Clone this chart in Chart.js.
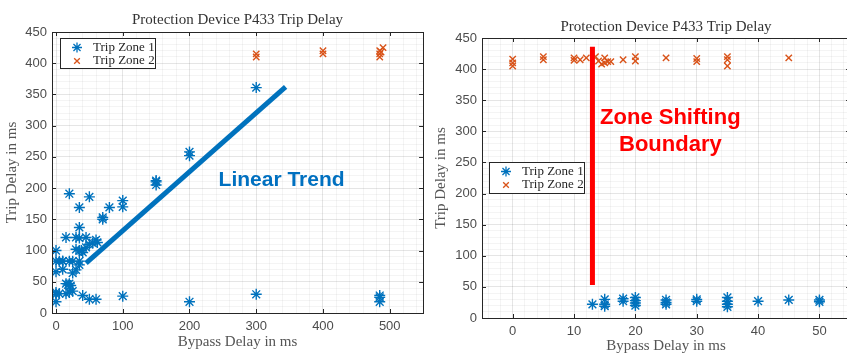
<!DOCTYPE html>
<html>
<head>
<meta charset="utf-8">
<script src="https://cdn.jsdelivr.net/npm/chart.js@4.4.1/dist/chart.umd.min.js"></script>
<style>
  html, body { margin:0; padding:0; background:#fff; overflow:hidden; width:847px; height:354px; }
  #left { position:absolute; left:0; top:0; }
  #right { position:absolute; left:430px; top:0; }
</style>
</head>
<body>
<canvas id="left" width="430" height="354"></canvas>
<canvas id="right" width="427" height="354"></canvas>
<script>
// ---- left plot: bypass delay 0..500 ms ----
const leftZone1X = [0,0,0,0,0,0, 5,5, 10,10,10, 15,15,15, 18,20,20,20,22, 20,25,25,25, 30,30,30, 35,35,35,35,35,35, 38,40,40, 45,45, 50,50,50, 55, 60,62,60, 70,70, 80, 100,100,100, 150,150,150, 200,200,200, 300,300, 485,485,485];
const leftZone1Y = [100,83,66,33,30,18, 83,31, 83,70,83, 121,47,31, 45,47,83,33,44, 191,83,64,35, 121,102,69, 169,137,120,100,83,77, 100,97,28, 121,105, 186,110,22, 112, 117,113,22, 153,150, 169, 180,170,27, 212,205,210, 258,252,18, 361,30, 28,25,18];
const leftZone2X = [300,300,400,400,485,485,485,487,490];
const leftZone2Y = [415,410,420,415,420,410,415,418,425];
const trendX = [45, 344];
const trendY = [80, 362];

// ---- right plot: bypass delay 0..50 ms ----
const rightZone1X = [13, 15,15,15, 18,18, 20,20,20,20, 25,25,25, 30,30, 35,35,35,35, 40, 45, 50,50];
const rightZone1Y = [22, 30,22,19, 31,27, 33,28,24,20, 29,25,22, 30,27, 33,27,22,18, 27, 29, 29,26];
const rightZone2X = [0,0,0, 5,5, 10,10, 11,12, 13.5,14,14.5,15,15,15.5,16, 18, 20,20, 25, 30,30, 35,35,35, 45];
const rightZone2Y = [416,410,405, 420,415, 418,414, 415,418, 420,413,408,418,410,412,412, 415, 420,413, 418, 417,412, 420,415,405, 418];
const boundaryX = [13, 13];
const boundaryY = [53, 436];

// ticks
const yMajor = [0,50,100,150,200,250,300,350,400,450];
const leftXMajor = [0,100,200,300,400,500];
const rightXMajor = [0,10,20,30,40,50];

const blue = '#0072BD';
const orange = '#D95319';
const gridMajor = 'rgba(0,0,0,0.10)';
const gridMinor = 'rgba(0,0,0,0.045)';
const serif = "'Liberation Serif', 'Times New Roman', serif";
const sans = "'Liberation Sans', Arial, sans-serif";

const pts = (xs, ys) => xs.map((x, i) => ({x: x, y: ys[i]}));

function scales(xMin, xMax, xStep, xMajor, yTitlePad, xTitlePad, xAxisH) {
  return {
    x: {
      type: 'linear', min: xMin, max: xMax,
      afterFit: s => { s.height = xAxisH; },
      // minor grid every xStep, labels only on the major values
      afterBuildTicks: s => {
        const t = [];
        for (let v = Math.ceil(xMin / xStep) * xStep; v <= xMax; v += xStep) t.push({value: v});
        s.ticks = t;
      },
      ticks: {
        autoSkip: false, maxRotation: 0, padding: 6,
        color: '#4d4d4d', font: {family: sans, size: 13},
        callback: v => xMajor.includes(v) ? String(v) : ''
      },
      grid: { drawTicks: false, color: c => xMajor.includes(c.tick.value) ? gridMajor : gridMinor },
      border: { display: false },
      title: { display: true, text: 'Bypass Delay in ms', color: '#555', font: {family: serif, size: 15, lineHeight: 1}, padding: {top: 0, bottom: xTitlePad} }
    },
    y: {
      type: 'linear', min: 0, max: 450,
      afterFit: s => { s.width = 52; },
      ticks: {
        stepSize: 10, autoSkip: false, maxTicksLimit: 1000, padding: 5,
        color: '#4d4d4d', font: {family: sans, size: 13},
        callback: v => yMajor.includes(v) ? String(v) : ''
      },
      grid: { drawTicks: false, color: c => yMajor.includes(c.tick.value) ? gridMajor : gridMinor },
      border: { display: false },
      title: { display: true, text: 'Trip Delay in ms', color: '#555', font: {family: serif, size: 15, lineHeight: 1}, padding: {top: yTitlePad, bottom: 0} }
    }
  };
}

// box, inward ticks, title, legend and text notes drawn like MATLAB axes
const matlabAxes = {
  id: 'matlabAxes',
  afterDraw(chart, args, o) {
    const ctx = chart.ctx;
    const a = chart.chartArea;
    const sx = chart.scales.x, sy = chart.scales.y;
    ctx.save();
    ctx.strokeStyle = '#262626';
    ctx.lineWidth = 1;
    ctx.strokeRect(Math.round(a.left) + 0.5, Math.round(a.top) + 0.5, Math.round(a.right - a.left), Math.round(a.bottom - a.top));
    const tl = 4;
    ctx.beginPath();
    o.xMajor.forEach(v => {
      const px = Math.round(sx.getPixelForValue(v)) + 0.5;
      ctx.moveTo(px, a.bottom); ctx.lineTo(px, a.bottom - tl);
      ctx.moveTo(px, a.top); ctx.lineTo(px, a.top + tl);
    });
    yMajor.forEach(v => {
      const py = Math.round(sy.getPixelForValue(v)) + 0.5;
      ctx.moveTo(a.left, py); ctx.lineTo(a.left + tl, py);
      ctx.moveTo(a.right, py); ctx.lineTo(a.right - tl, py);
    });
    ctx.stroke();

    // title
    ctx.fillStyle = '#333';
    ctx.font = '15px ' + serif;
    ctx.textAlign = 'center';
    ctx.textBaseline = 'middle';
    ctx.fillText('Protection Device P433 Trip Delay', (a.left + a.right) / 2, o.titleY);

    // notes
    ctx.fillStyle = o.note.color;
    ctx.font = 'bold ' + o.note.size + 'px ' + sans;
    o.note.lines.forEach((t, i) => {
      ctx.fillText(t, sx.getPixelForValue(o.note.x), sy.getPixelForValue(o.note.y) + i * o.note.lh);
    });

    // legend
    const L = o.legend;
    const lx = a.left + L.dx, ly = a.top + L.dy;
    ctx.fillStyle = '#fff';
    ctx.fillRect(lx, ly, L.w, L.h);
    ctx.strokeStyle = '#262626';
    ctx.strokeRect(lx + 0.5, ly + 0.5, L.w, L.h);
    const items = [
      {text: 'Trip Zone 1', color: blue, style: 'star', r: 5},
      {text: 'Trip Zone 2', color: orange, style: 'crossRot', r: 4}
    ];
    items.forEach((it, i) => {
      const cy = ly + 9.5 + i * 13.5;
      ctx.strokeStyle = it.color;
      ctx.fillStyle = it.color;
      ctx.lineWidth = 1.3;
      Chart.helpers.drawPoint(ctx, {pointStyle: it.style, radius: it.r, borderWidth: 1.3, rotation: 0}, lx + 17, cy);
      ctx.fillStyle = '#262626';
      ctx.font = '13px ' + serif;
      ctx.textAlign = 'left';
      ctx.fillText(it.text, lx + 33, cy);
    });
    ctx.restore();
  }
};

function scatterSet(data, color, style, r) {
  return { data: data, pointStyle: style, pointRadius: r, borderColor: color, backgroundColor: color, borderWidth: 1.4, showLine: false };
}

new Chart(document.getElementById('left'), {
  type: 'scatter',
  data: {
    datasets: [
      { data: pts(trendX, trendY), showLine: true, borderColor: blue, borderWidth: 5, pointRadius: 0, borderCapStyle: 'butt' },
      scatterSet(pts(leftZone1X, leftZone1Y), blue, 'star', 5.5),
      scatterSet(pts(leftZone2X, leftZone2Y), orange, 'crossRot', 4.5)
    ]
  },
  options: {
    responsive: false, animation: false, events: [],
    layout: { padding: {top: 32, right: 2, left: 0, bottom: 0} },
    plugins: {
      legend: { display: false }, tooltip: { enabled: false },
      matlabAxes: {
        xMajor: leftXMajor, titleY: 20,
        legend: {dx: 8, dy: 6, w: 95, h: 30},
        note: {lines: ['Linear Trend'], x: 338, y: 213, size: 21, lh: 0, color: '#0070C0'}
      }
    },
    scales: scales(-6, 550, 20, leftXMajor, 5, 4.5, 41)
  },
  plugins: [matlabAxes]
});

new Chart(document.getElementById('right'), {
  type: 'scatter',
  data: {
    datasets: [
      { data: pts(boundaryX, boundaryY), showLine: true, borderColor: '#FF0000', borderWidth: 5, pointRadius: 0, borderCapStyle: 'butt' },
      scatterSet(pts(rightZone1X, rightZone1Y), blue, 'star', 5.5),
      scatterSet(pts(rightZone2X, rightZone2Y), orange, 'crossRot', 4.5)
    ]
  },
  options: {
    responsive: false, animation: false, events: [],
    layout: { padding: {top: 38, right: 1, left: 0, bottom: 0} },
    plugins: {
      legend: { display: false }, tooltip: { enabled: false },
      matlabAxes: {
        xMajor: rightXMajor, titleY: 27,
        legend: {dx: 7, dy: 124, w: 95, h: 31},
        note: {lines: ['Zone Shifting', 'Boundary'], x: 25.7, y: 322, size: 22, lh: 27, color: '#FF0000'}
      }
    },
    scales: scales(-5, 55, 2, rightXMajor, 4, 0, 36)
  },
  plugins: [matlabAxes]
});
</script>
</body>
</html>
